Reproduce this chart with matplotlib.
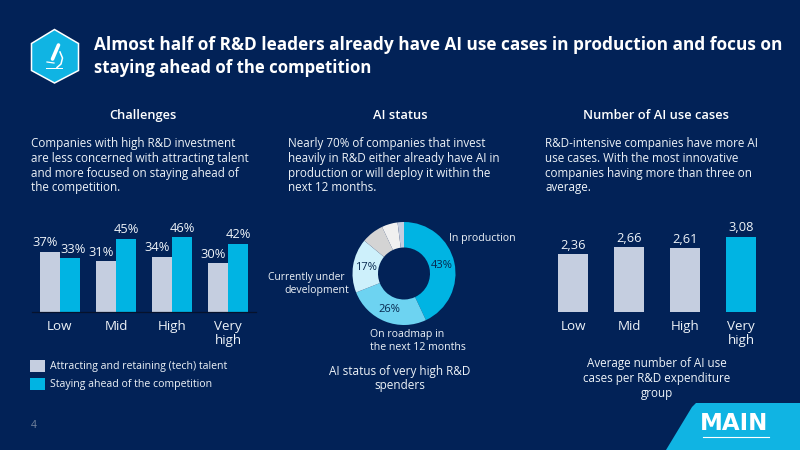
import matplotlib
matplotlib.use("Agg")
import numpy as np
import matplotlib.pyplot as plt
from matplotlib.patches import Polygon, Rectangle

plt.rcParams['font.family'] = ['Open Sans', 'DejaVu Sans']

BG = '#022257'
LIGHT = '#c5cee0'
BLUE = '#00b4e3'
TEXT = '#eef3f8'

groups = ['Low', 'Mid', 'High', 'Very\nhigh']
talent = [37, 31, 34, 30]
ahead = [33, 45, 46, 42]

status_values = [43, 26, 17, 7, 5, 2]
status_colors = [BLUE, '#6dd3f1', '#cdf0fb', '#d4d4d4', '#f0f0f0', '#c5cee0']
status_labels = ['43%', '26%', '17%', '', '', '']

use_cases = [2.36, 2.66, 2.61, 3.08]
use_case_labels = ['2,36', '2,66', '2,61', '3,08']


def px_axes(fig, left, top, right, bottom):
    return fig.add_axes([left / 800, 1 - bottom / 450, (right - left) / 800, (bottom - top) / 450])


fig = plt.figure(figsize=(8, 4.5), dpi=100, facecolor=BG)

# overlay in pixel coordinates for text and decoration
bg = fig.add_axes([0, 0, 1, 1])
bg.set_xlim(0, 800)
bg.set_ylim(450, 0)
bg.axis('off')

bg.add_patch(Polygon([(54.5, 29.5), (78.5, 43.5), (78.5, 70.5), (54.5, 83), (31.5, 70.5), (31.5, 43.5)],
                     fc='#10b4e3', ec='white', lw=1.1))
# microscope icon
bg.add_patch(Rectangle((46, 67.5), 17, 1.6, fc='white'))
bg.plot([52.5, 58.5], [59, 45], color='white', lw=2.6, solid_capstyle='round')
bg.plot([60, 62.5, 61, 57], [52, 58, 64, 67.5], color='white', lw=1.1)
bg.plot([47, 54], [62, 63], color='white', lw=0.9)

bg.text(94, 44.5, 'Almost half of R&D leaders already have AI use cases in production and focus on',
        color='white', fontsize=12.45, fontweight='bold', ha='left', va='center')
bg.text(94, 68, 'staying ahead of the competition',
        color='white', fontsize=12.1, fontweight='bold', ha='left', va='center')

heads = [(143, 'Challenges'), (400, 'AI status'), (656, 'Number of AI use cases')]
for x, s in heads:
    bg.text(x, 115.5, s, color='white', fontsize=9.3, fontweight='semibold', ha='center', va='center')

col1 = ['Companies with high R&D investment', 'are less concerned with attracting talent',
        'and more focused on staying ahead of', 'the competition.']
col2 = ['Nearly 70% of companies that invest', 'heavily in R&D either already have AI in',
        'production or will deploy it within the', 'next 12 months.']
col3 = ['R&D-intensive companies have more AI', 'use cases. With the most innovative',
        'companies having more than three on', 'average.']
for x, lines in [(31, col1), (288, col2), (545, col3)]:
    for i, line in enumerate(lines):
        bg.text(x, 144 + i * 14.6, line, color=TEXT, fontsize=8.35, ha='left', va='center')

# legend
bg.add_patch(Rectangle((30, 360), 15, 12, fc=LIGHT))
bg.add_patch(Rectangle((30, 378), 15, 12, fc=BLUE))
bg.text(50, 366.5, 'Attracting and retaining (tech) talent', color=TEXT, fontsize=7.6, va='center')
bg.text(50, 384.5, 'Staying ahead of the competition', color=TEXT, fontsize=7.6, va='center')

bg.text(34, 426, '4', color='#76869f', fontsize=7.5, ha='center', va='center')

# donut captions
bg.text(449, 238.5, 'In production', color=TEXT, fontsize=7.6, ha='left', va='center')
bg.text(345, 277.5, 'Currently under', color=TEXT, fontsize=7.4, ha='right', va='center')
bg.text(349, 290, 'development', color=TEXT, fontsize=7.6, ha='right', va='center')
bg.text(370, 334.5, 'On roadmap in', color=TEXT, fontsize=7.6, ha='left', va='center')
bg.text(370, 347, 'the next 12 months', color=TEXT, fontsize=7.6, ha='left', va='center')
bg.text(400, 371, 'AI status of very high R&D', color=TEXT, fontsize=8.5, ha='center', va='center')
bg.text(400, 385.5, 'spenders', color=TEXT, fontsize=8.5, ha='center', va='center')

for i, line in enumerate(['Average number of AI use', 'cases per R&D expenditure', 'group']):
    bg.text(657, 364 + i * 14.5, line, color=TEXT, fontsize=8.4, ha='center', va='center')

# logo corner
bg.add_patch(Polygon([(666, 450), (692, 407), (696, 403), (800, 403), (800, 450)], fc='#10b4e3'))
bg.text(734.5, 424, 'MAIN', color='white', fontsize=16.5, fontweight='bold', family='DejaVu Sans',
        ha='center', va='center')
bg.plot([703, 769], [436.5, 436.5], color='white', lw=0.8)

# left chart
ax1 = px_axes(fig, 32, 212, 256, 312)
w = 0.357
ahead_shift = [0.05, 0, 0, 0]
for i in range(len(groups)):
    ax1.bar(i - w / 2, talent[i], w, color=LIGHT)
    ax1.bar(i + w / 2, ahead[i], w, color=BLUE)
    ax1.text(i - w / 2 - 0.09, talent[i] + 1.4, f'{talent[i]}%', color=TEXT, fontsize=9.3, ha='center', va='bottom')
    ax1.text(i + w / 2 + ahead_shift[i], ahead[i] + 1.4, f'{ahead[i]}%', color=TEXT, fontsize=9.3, ha='center', va='bottom')
ax1.set_xlim(-0.5, 3.5)
ax1.set_ylim(0, 100 / 1.63)
ax1.patch.set_alpha(0)
for s in ['top', 'left', 'right']:
    ax1.spines[s].set_visible(False)
ax1.spines['bottom'].set_color('#06122c')
ax1.spines['bottom'].set_linewidth(0.9)
ax1.set_yticks([])
ax1.set_xticks(range(len(groups)))
ax1.set_xticklabels(groups, color=TEXT, fontsize=9.6, linespacing=1.1)
ax1.tick_params(axis='x', length=0, pad=5.5)

# donut
ax2 = px_axes(fig, 344, 213.5, 464, 333.5)
wedges, _ = ax2.pie(status_values, colors=status_colors, startangle=90, counterclock=False,
                    radius=51.5, wedgeprops=dict(width=25.5), frame=True)
ax2.set_xlim(-60, 60)
ax2.set_ylim(-60, 60)
ax2.axis('off')
for wedge, label in zip(wedges, status_labels):
    ang = np.deg2rad((wedge.theta1 + wedge.theta2) / 2)
    ax2.text(38.5 * np.cos(ang), 38.5 * np.sin(ang), label, color='#06284f', fontsize=8,
             ha='center', va='center')

# right chart
ax3 = px_axes(fig, 545, 212, 769, 312)
colors3 = [LIGHT, LIGHT, LIGHT, BLUE]
ax3.bar(range(len(use_cases)), use_cases, 0.55, color=colors3)
for i, v in enumerate(use_cases):
    ax3.text(i, v + 0.1, use_case_labels[i], color=TEXT, fontsize=9.3, ha='center', va='bottom')
ax3.set_xlim(-0.5, 3.5)
ax3.set_ylim(0, 100 / 24.4)
ax3.patch.set_alpha(0)
for s in ['top', 'left', 'right', 'bottom']:
    ax3.spines[s].set_visible(False)
ax3.set_yticks([])
ax3.set_xticks(range(len(groups)))
ax3.set_xticklabels(groups, color=TEXT, fontsize=9.6, linespacing=1.1)
ax3.tick_params(axis='x', length=0, pad=5.5)

fig.savefig('out.png', dpi=100, facecolor=BG)
